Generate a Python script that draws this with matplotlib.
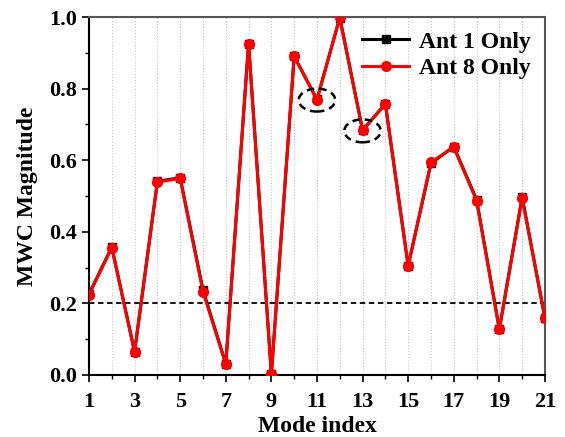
import matplotlib
matplotlib.use('Agg')
import matplotlib.pyplot as plt
from matplotlib.patches import Ellipse

# MWC magnitude for each characteristic mode
modes = list(range(1, 22))
ant1 = [0.226, 0.357, 0.065, 0.541, 0.551, 0.237, 0.031, 0.926, 0.003, 0.890, 0.770,
        0.998, 0.684, 0.757, 0.305, 0.591, 0.638, 0.490, 0.128, 0.497, 0.158]
ant8 = [0.224, 0.356, 0.064, 0.539, 0.549, 0.233, 0.030, 0.925, 0.002, 0.891, 0.768,
        0.999, 0.683, 0.758, 0.304, 0.594, 0.637, 0.487, 0.127, 0.494, 0.160]
threshold = 0.2
highlighted = [(11, 0.768), (13, 0.682)]

plt.rcParams['font.family'] = 'Liberation Serif'
plt.rcParams['font.weight'] = 'bold'

fig = plt.figure(figsize=(5.65, 4.37), dpi=100)
ax = fig.add_axes([0.1575, 0.142, 0.807, 0.819])

for m in modes:
    ax.axvline(m, color='#c8c8c8', lw=0.8, ls=':', zorder=0)

ax.axhline(threshold, color='black', lw=1.3, ls=(0, (3, 2)), zorder=1)

ax.plot(modes, ant1, color='black', marker='s', ms=6, lw=2.2, label='Ant 1 Only', zorder=2)
ax.plot(modes, ant8, color='red', marker='o', ms=7, lw=2.2, label='Ant 8 Only', zorder=3)

for x, y in highlighted:
    ax.add_patch(Ellipse((x, y), 1.6, 0.064, fill=False, ec='black', lw=1.8,
                         ls=(0, (3, 2)), zorder=4))

ax.set_xlim(1, 21)
ax.set_ylim(0, 1.0)
ax.set_xticks(range(1, 22, 2))
ax.set_xticks(range(1, 22), minor=True)
ax.set_yticks([0.0, 0.2, 0.4, 0.6, 0.8, 1.0])
ax.set_yticks([0.1, 0.3, 0.5, 0.7, 0.9], minor=True)
ax.set_yticklabels(['0.0', '0.2', '0.4', '0.6', '0.8', '1.0'])
ax.tick_params(axis='both', which='major', labelsize=16, length=5, width=1.2)
ax.tick_params(axis='x', which='major', pad=7)
ax.tick_params(axis='both', which='minor', length=3, width=1.0)
for lbl in ax.get_xticklabels() + ax.get_yticklabels():
    lbl.set_fontweight('bold')

for side in ['top', 'right']:
    ax.spines[side].set_color('#555555')
    ax.spines[side].set_linewidth(1.5)
for side in ['left', 'bottom']:
    ax.spines[side].set_linewidth(1.5)

ax.set_xlabel('Mode index', fontsize=17, fontweight='bold', labelpad=3)
ax.set_ylabel('MWC Magnitude', fontsize=17, fontweight='bold', labelpad=8)

leg = ax.legend(loc='upper right', fontsize=17, frameon=False, handlelength=2.0,
                borderaxespad=0.2, handletextpad=0.4, labelspacing=0.2)
for t in leg.get_texts():
    t.set_fontweight('bold')

fig.savefig('out.png', dpi=100)
